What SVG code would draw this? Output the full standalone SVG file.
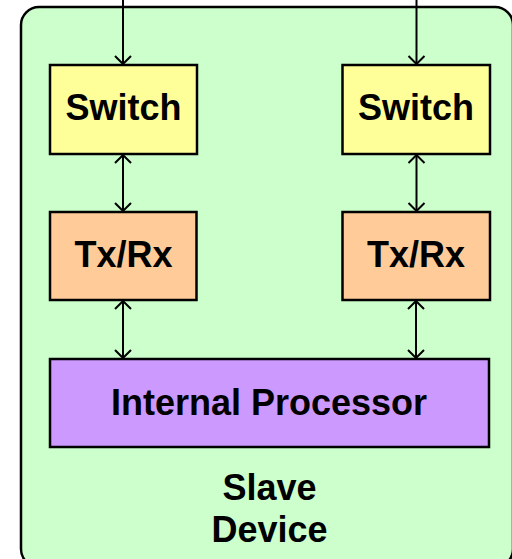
<svg xmlns="http://www.w3.org/2000/svg" width="512" height="559" viewBox="0 0 512 559">
<defs>
<style>
.box{stroke:#000;stroke-width:2.5}
.lbl{font-family:"Liberation Sans",Arial,sans-serif;font-weight:bold;font-size:36px;fill:#000;text-anchor:middle}
.conn{stroke:#000;stroke-width:2;fill:none}
</style>
<marker id="arr" viewBox="0 0 10 20" refX="9" refY="10" markerWidth="10" markerHeight="20" markerUnits="userSpaceOnUse" orient="auto-start-reverse">
<path d="M1,2 L9,10 L1,18" fill="none" stroke="#000" stroke-width="2"/>
</marker>
</defs>
<g id="slave-device">
<rect x="21" y="7" width="492" height="560" rx="18" ry="18" fill="#CCFFCC" stroke="#000" stroke-width="2.5"/>
<text class="lbl" x="269.5" y="500">Slave</text>
<text class="lbl" x="269.5" y="542">Device</text>
</g>
<g id="switch-left">
<rect class="box" x="50" y="65" width="147" height="89" fill="#FFFF99"/>
<text class="lbl" x="123.5" y="120">Switch</text>
</g>
<g id="switch-right">
<rect class="box" x="342.5" y="65" width="147.5" height="89" fill="#FFFF99"/>
<text class="lbl" x="416" y="120">Switch</text>
</g>
<g id="txrx-left">
<rect class="box" x="50" y="212" width="146.5" height="88" fill="#FFCC99"/>
<text class="lbl" x="123.5" y="267">Tx/Rx</text>
</g>
<g id="txrx-right">
<rect class="box" x="342.5" y="212" width="147.5" height="88" fill="#FFCC99"/>
<text class="lbl" x="416" y="267">Tx/Rx</text>
</g>
<g id="internal-processor">
<rect class="box" x="50" y="359" width="439" height="88" fill="#CC99FF"/>
<text class="lbl" x="269" y="415">Internal Processor</text>
</g>
<g id="connectors">
<line class="conn" x1="123" y1="0" x2="123" y2="64" marker-end="url(#arr)"/>
<line class="conn" x1="416.5" y1="0" x2="416.5" y2="64" marker-end="url(#arr)"/>
<line class="conn" x1="123" y1="155" x2="123" y2="211" marker-start="url(#arr)" marker-end="url(#arr)"/>
<line class="conn" x1="416.5" y1="155" x2="416.5" y2="211" marker-start="url(#arr)" marker-end="url(#arr)"/>
<line class="conn" x1="123" y1="301" x2="123" y2="358" marker-start="url(#arr)" marker-end="url(#arr)"/>
<line class="conn" x1="416" y1="301" x2="416" y2="358" marker-start="url(#arr)" marker-end="url(#arr)"/>
</g>
</svg>
